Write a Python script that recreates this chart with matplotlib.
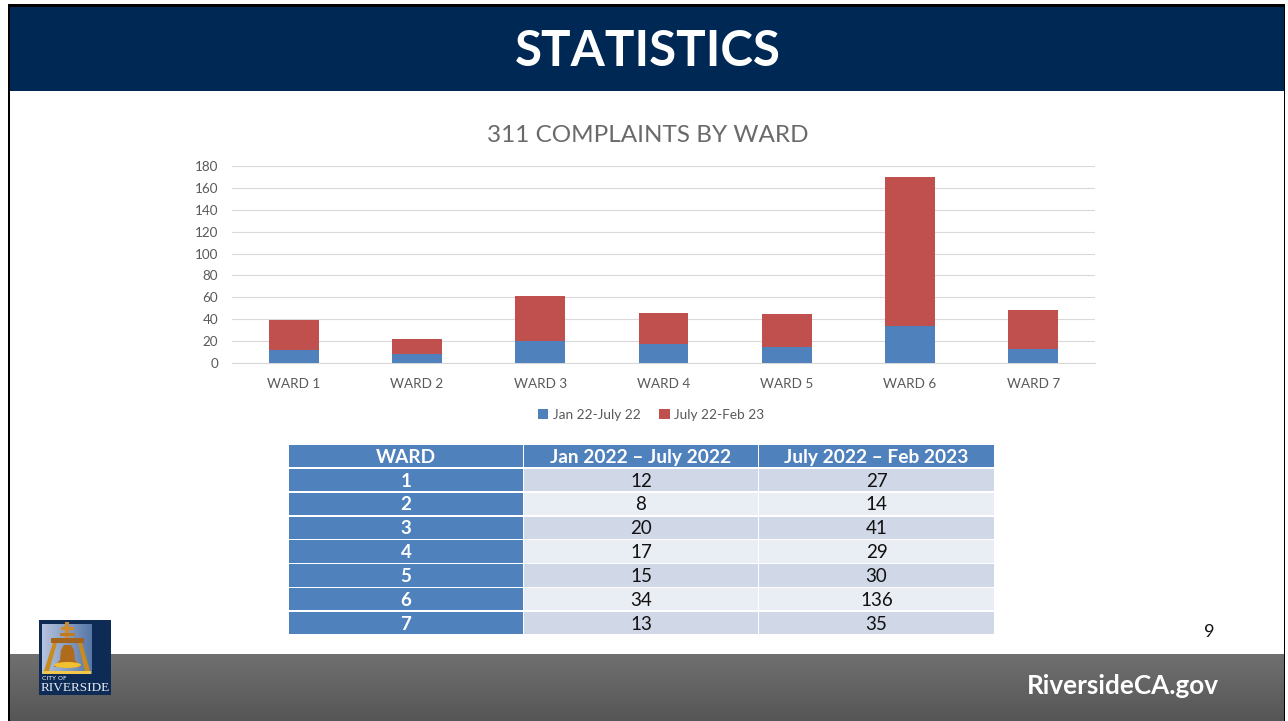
import numpy as np
import matplotlib
matplotlib.use('Agg')
import matplotlib.pyplot as plt
from matplotlib.colors import LinearSegmentedColormap
from matplotlib.patches import Rectangle, Polygon, Ellipse

# Data
wards = ['WARD 1', 'WARD 2', 'WARD 3', 'WARD 4', 'WARD 5', 'WARD 6', 'WARD 7']
ward_numbers = ['1', '2', '3', '4', '5', '6', '7']
jan_july_22 = [12, 8, 20, 17, 15, 34, 13]
july_feb_23 = [27, 14, 41, 29, 30, 136, 35]
y_ticks = [0, 20, 40, 60, 80, 100, 120, 140, 160, 180]
table_header = ['WARD', 'Jan 2022 \u2013 July 2022', 'July 2022 \u2013 Feb 2023']

BLUE = '#4f81bd'
RED = '#c0504d'
GOTHIC = 'Lato'

fig = plt.figure(figsize=(12.88, 7.21), dpi=100, facecolor='white')

# Full slide overlay in pixel coordinates
bg = fig.add_axes([0, 0, 1, 1])
bg.axis('off')

# Slide frame
bg.add_patch(Rectangle((8, 4), 1277, 717, fc='black', ec='none'))
bg.add_patch(Rectangle((10.5, 7), 1274, 714, fc='white', ec='none'))

# Header band
bg.add_patch(Rectangle((10.5, 7), 1274, 84, fc='#002855', ec='none'))
bg.text(648, 51, 'STATISTICS', color='white', fontsize=35.5, fontweight='bold',
        family=GOTHIC, ha='center', va='center')

# Footer band with gradient
grad = np.linspace(0, 1, 64).reshape(-1, 1)
bg.imshow(grad, extent=(10.5, 1284.5, 721, 654), aspect='auto', zorder=1,
          cmap=LinearSegmentedColormap.from_list('f', ['#707070', '#565656']))
bg.text(1123, 686, 'RiversideCA.gov', color='white', fontsize=18.8, fontweight='bold',
        family=GOTHIC, ha='center', va='center', zorder=3)
bg.text(1209, 632, '9', color='#111111', fontsize=13, family=GOTHIC, ha='center', va='center')

# Logo
bg.add_patch(Rectangle((39, 620), 72, 75, fc='#0d2b55', ec='none', zorder=4))
bg.imshow(np.linspace(0, 1, 32).reshape(1, -1), extent=(42, 92, 674, 624), aspect='auto', zorder=5,
          cmap=LinearSegmentedColormap.from_list('s', ['#b4c3dc', '#5878a8']))
gold = '#c98a1e'
bg.add_patch(Rectangle((65.5, 622), 4, 18, fc='#d08a2a', ec='none', zorder=6))
bg.add_patch(Rectangle((61, 627), 13, 3, fc='#d08a2a', ec='none', zorder=6))
bg.add_patch(Rectangle((60, 633), 15, 3, fc='#c07a20', ec='none', zorder=6))
bg.add_patch(Rectangle((51, 638), 33, 5, fc='#a5641c', ec='none', zorder=6))
bg.add_patch(Polygon([(53, 643), (57, 643), (49, 671), (44, 671)], fc=gold, ec='none', zorder=6))
bg.add_patch(Polygon([(78, 643), (82, 643), (90, 671), (85, 671)], fc=gold, ec='none', zorder=6))
bg.add_patch(Polygon([(64, 645), (71, 645), (74, 650), (75, 660), (81, 667), (54, 667), (60, 660), (61, 650)],
                     fc='#b06a1c', ec='none', zorder=7))
bg.add_patch(Ellipse((67.5, 665), 27, 6, fc='#f0c030', ec='none', zorder=8))
bg.add_patch(Rectangle((43, 671), 48, 3, fc='#f2c84a', ec='none', zorder=8))
bg.text(42, 678.5, 'CITY OF', color='white', fontsize=4.5, family='DejaVu Sans',
        ha='left', va='center', zorder=8)
bg.text(75, 688, 'RIVERSIDE', color='#e8ecf4', fontsize=9.5, family='Liberation Serif',
        ha='center', va='center', zorder=8)

bg.set_xlim(0, 1288)
bg.set_ylim(721, 0)

# Bar chart
ax = fig.add_axes([232 / 1288, 1 - 363 / 721, (1095 - 232) / 1288, (363 - 166) / 721])
ax.patch.set_alpha(0)
x = np.arange(len(wards))
ax.bar(x, jan_july_22, width=0.405, color=BLUE, label='Jan 22-July 22', zorder=3)
ax.bar(x, july_feb_23, width=0.405, bottom=jan_july_22, color=RED, label='July 22-Feb 23', zorder=3)
ax.set_xlim(-0.5, 6.5)
ax.set_ylim(0, 180)
ax.set_yticks(y_ticks)
ax.set_xticks(x)
ax.set_xticklabels(wards, family='Lato', fontsize=9.7, color='#595959')
ax.set_yticklabels([str(t) for t in y_ticks], family='Lato', fontsize=9.7, color='#595959')
ax.tick_params(axis='both', length=0)
ax.tick_params(axis='x', pad=11)
ax.tick_params(axis='y', pad=10)
ax.grid(axis='y', color='#d9d9d9', linewidth=0.8, zorder=0)
ax.set_axisbelow(True)
for s in ['top', 'right', 'left']:
    ax.spines[s].set_visible(False)
ax.spines['bottom'].set_color('#d9d9d9')
ax.spines['bottom'].set_linewidth(0.8)

bg.text(648, 136, '311 COMPLAINTS BY WARD', color='#6a6a6a', fontsize=17.5,
        family=GOTHIC, ha='center', va='center')

fig.legend(loc='center', bbox_to_anchor=(651 / 1288, 1 - 415 / 721), ncol=2, frameon=False,
           prop={'family': 'Lato', 'size': 9.8}, labelcolor='#595959', handlelength=0.75,
           handleheight=0.75, columnspacing=1.4, handletextpad=0.35)

# Table
col_x = [289, 524, 759]
col_w = [234, 234, 235]
cols = [ward_numbers, jan_july_22, july_feb_23]
for c in range(3):
    bg.add_patch(Rectangle((col_x[c], 445), col_w[c], 22, fc=BLUE, ec='none'))
    bg.text(col_x[c] + col_w[c] / 2, 457.5, table_header[c], color='white', fontsize=13.8,
            fontweight='bold', family=GOTHIC, ha='center', va='center')
    for r in range(7):
        top = 469 + r * 23.8
        if c == 0:
            face = BLUE
        else:
            face = '#d0d8e8' if r % 2 == 0 else '#e9edf4'
        bg.add_patch(Rectangle((col_x[c], top), col_w[c], 22.4, fc=face, ec='none'))
        bg.text(col_x[c] + col_w[c] / 2, top + 12.2, str(cols[c][r]),
                color='white' if c == 0 else '#111111', fontsize=13.5,
                fontweight='bold' if c == 0 else 'normal', family=GOTHIC,
                ha='center', va='center')

fig.savefig('out.png', dpi=100)
